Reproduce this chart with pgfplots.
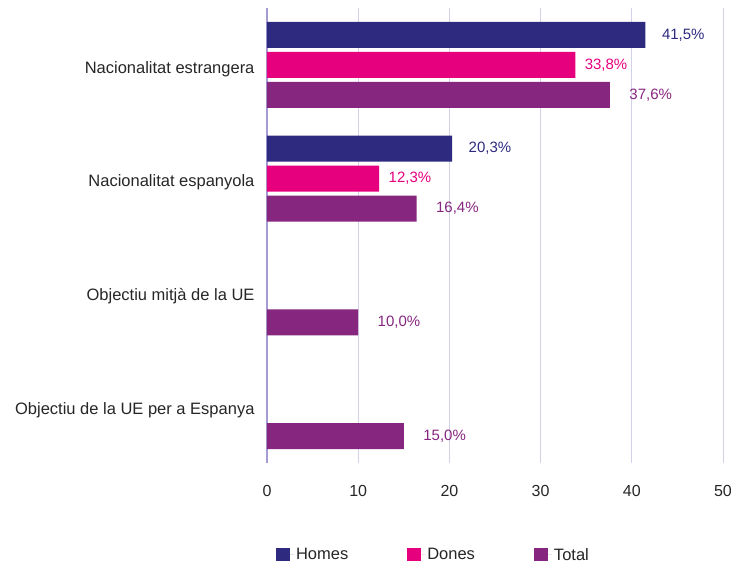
\documentclass[border=0pt]{standalone}
\usepackage{pgfplots}
\pgfplotsset{compat=1.18}
\usepackage{fontspec}
\setmainfont{Liberation Sans}
\definecolor{homes}{HTML}{2E2A80}
\definecolor{dones}{HTML}{E6007E}
\definecolor{total}{HTML}{86267F}
\definecolor{gridc}{HTML}{D4D0E8}
\definecolor{spine}{HTML}{A69BD2}
\begin{document}
\begin{tikzpicture}[x=1pt,y=1pt]
\path[use as bounding box] (0,0) rectangle (731,566);
\begin{axis}[
  at={(267pt,103pt)}, anchor=south west,
  width=456pt, height=455pt, scale only axis,
  xmin=0, xmax=50, ymin=-0.5, ymax=3.5, y dir=reverse,
  xbar, bar width=0.229, bar shift=0pt,
  xtick={0,10,20,30,40,50},
  ytick={0,1,2,3},
  yticklabels={Nacionalitat estrangera, Nacionalitat espanyola, Objectiu mitjà de la UE, Objectiu de la UE per a Espanya},
  axis line style={draw=none},
  major tick length=0pt,
  xmajorgrids, grid style={gridc, line width=0.8pt},
  extra x ticks={0}, extra x tick labels={},
  extra x tick style={grid style={spine, line width=1.8pt}},
  /pgf/number format/assume math mode=true,
  tick label style={text=black!85},
  xticklabel style={yshift=-19pt, font=\fontsize{16}{18}\selectfont},
  yticklabel style={xshift=-9pt, yshift=-4pt, font=\fontsize{16.5}{18}\selectfont},
  point meta=x,
  nodes near coords={\pgfmathprintnumber[fixed, fixed zerofill, precision=1, use comma, assume math mode=true]{\pgfplotspointmeta}\%},
  every node near coord/.append style={font=\fontsize{15}{17}\selectfont, anchor=west},
  legend columns=3,
  legend style={at={(0.365,-0.202)}, anchor=center, draw=none, font=\fontsize{16.5}{18}\selectfont, text=black!85,
    /tikz/every even column/.append style={column sep=57pt}},
  legend image code/.code={\path (0pt,0pt) -- (18pt,0pt); \fill[#1] (0pt,-6.5pt) rectangle (14pt,7pt);},
]
\addplot[draw=none, fill=homes, every node near coord/.append style={text=homes, xshift=13pt}] coordinates {(41.5,-0.2632) (20.3,0.7368)};
\addlegendentry{Homes}
\addplot[draw=none, fill=dones, every node near coord/.append style={text=dones, xshift=6pt}] coordinates {(33.8,0) (12.3,1)};
\addlegendentry{Dones}
\addplot[draw=none, fill=total, every node near coord/.append style={text=total, xshift=16pt}] coordinates {(37.6,0.2632) (16.4,1.2632) (10.0,2.2632) (15.0,3.2632)};
\addlegendentry{Total}
\end{axis}
\end{tikzpicture}
\end{document}
